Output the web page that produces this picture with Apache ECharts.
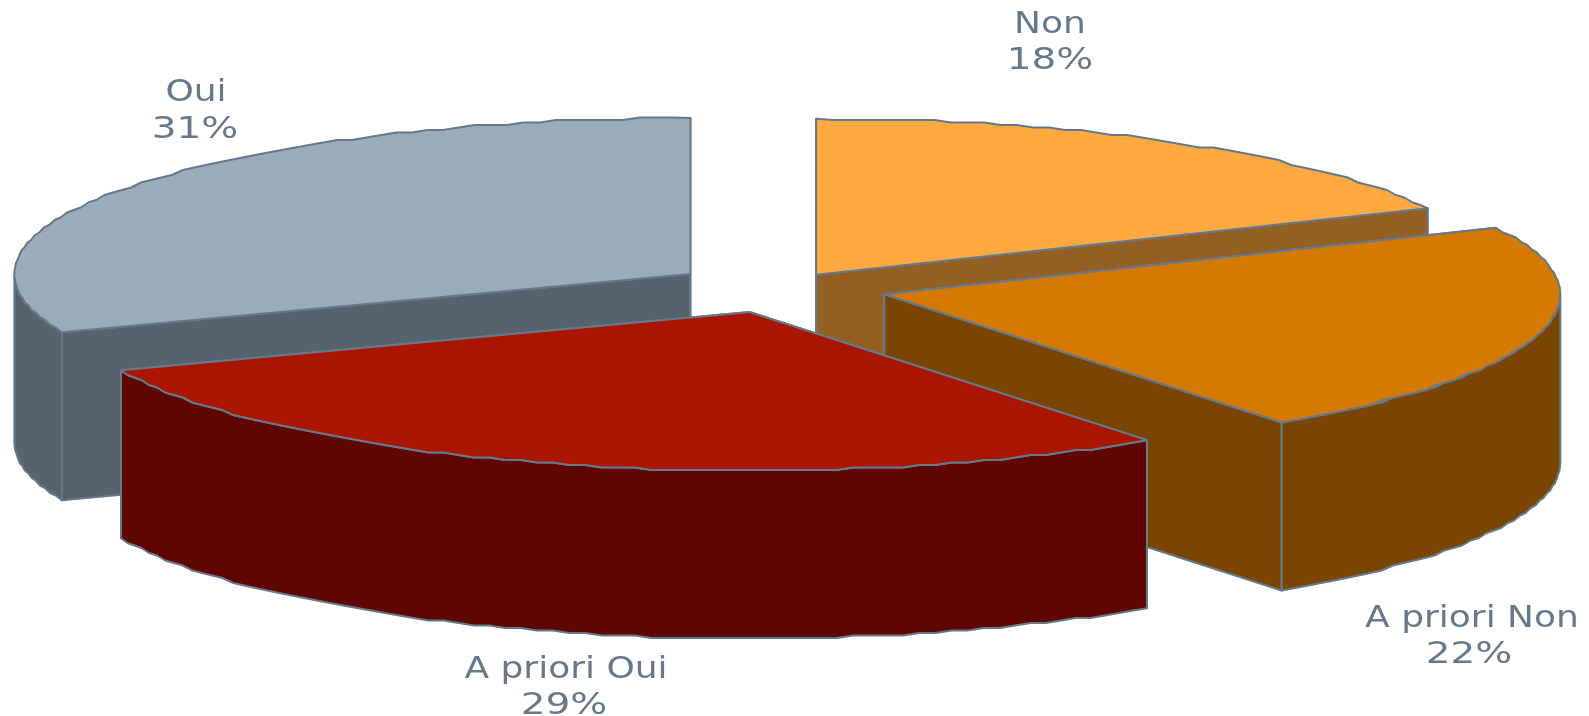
<!DOCTYPE html>
<html>
<head>
<meta charset="utf-8">
<style>
html, body { margin: 0; padding: 0; background: #fff; }
#container1 { width: 1589px; height: 716px; }
</style>
<script src="https://cdn.jsdelivr.net/npm/echarts@6/dist/echarts.min.js"></script>
</head>
<body>
<div id="container1"></div>
<script>
// data, clockwise from 12 o'clock
var categories = ['Non', 'A priori Non', 'A priori Oui', 'Oui'];
var shares = [18, 22, 29, 31];

// colours per slice
var topColors = ['#FFA940', '#D57A00', '#AA1500', '#9BABBA'];
var wallColors = ['#945F22', '#7A4500', '#600600', '#56636C'];
var lineColor = '#66798C';

// 3d pie layout, in px
var cx = 779.7, cy = 288;
var rx = 676, ryBack = 156, ryFront = 158.5, depth = 168;
var explode = [68, 108, 108, 108];
var drawOrder = [1, 2, 3, 0];
// label centre x, baseline area y of the name line and of the percent line
var nameX = [1050, 1472, 566, 196];
var percentX = [1050, 1469, 564, 195];
var labelY = [[25, 61], [619, 655], [670, 706], [93, 130]];
var arcSnap = 2.5;

var total = shares.reduce(function (a, b) { return a + b; }, 0);

function rimPoint(ax, ay, t) {
    var c = Math.cos(t);
    return [ax + rx * Math.sin(t), ay - (c > 0 ? ryBack : ryFront) * c];
}

function arc(ax, ay, t0, t1, dy) {
    var pts = [];
    var n = Math.max(2, Math.round((t1 - t0) * 40));
    for (var i = 0; i <= n; i++) {
        var p = rimPoint(ax, ay, t0 + (t1 - t0) * i / n);
        if (i > 0 && i < n) {
            p[1] = Math.round(p[1] / arcSnap) * arcSnap;
        }
        pts.push([p[0], p[1] + dy]);
    }
    return pts;
}

function poly(points, fill, z2) {
    return {
        type: 'polygon',
        z2: z2,
        shape: { points: points },
        style: { fill: fill, stroke: lineColor, lineWidth: 2, lineJoin: 'round' }
    };
}

function label(text, x, y, scale) {
    return {
        type: 'text',
        z2: 100,
        x: x,
        y: y,
        scaleX: scale,
        style: {
            text: text,
            fill: lineColor,
            font: '30px "DejaVu Sans"',
            align: 'center',
            verticalAlign: 'middle'
        }
    };
}

function renderSlice(params, api) {
    var i = params.dataIndex;
    var before = 0;
    for (var k = 0; k < i; k++) before += shares[k];
    var t0 = before / total * Math.PI * 2;
    var t1 = t0 + api.value(0) / total * Math.PI * 2;
    var mid = (t0 + t1) / 2;
    var ax = cx + explode[i] * Math.sin(mid);
    var ay = cy - explode[i] * (ryBack / rx) * Math.cos(mid);
    var z = drawOrder[i] * 10;
    var wallColor = wallColors[i];
    var children = [];

    [t0, t1].forEach(function (t) {
        var e = rimPoint(ax, ay, t);
        children.push(poly([[ax, ay], e, [e[0], e[1] + depth], [ax, ay + depth]], wallColor, z));
    });

    // only the front part of the rim can be seen
    var f0 = Math.max(t0, Math.PI / 2), f1 = Math.min(t1, Math.PI * 1.5);
    if (f1 > f0) {
        var rim = arc(ax, ay, f0, f1, 0).concat(arc(ax, ay, f0, f1, depth).reverse());
        children.push(poly(rim, wallColor, z + 1));
    }

    children.push(poly([[ax, ay]].concat(arc(ax, ay, t0, t1, 0)), topColors[i], z + 2));

    children.push(label(categories[i], nameX[i], labelY[i][0], 1.2));
    children.push(label(api.value(0) + '%', percentX[i], labelY[i][1], 1.3));

    return { type: 'group', children: children };
}

var myChart = echarts.init(document.getElementById('container1'));
var option = {
    backgroundColor: '#fff',
    animation: false,
    series: [{
        type: 'custom',
        coordinateSystem: 'none',
        renderItem: renderSlice,
        data: shares.map(function (v, i) { return { name: categories[i], value: [v] }; })
    }]
};
myChart.setOption(option);
</script>
</body>
</html>
